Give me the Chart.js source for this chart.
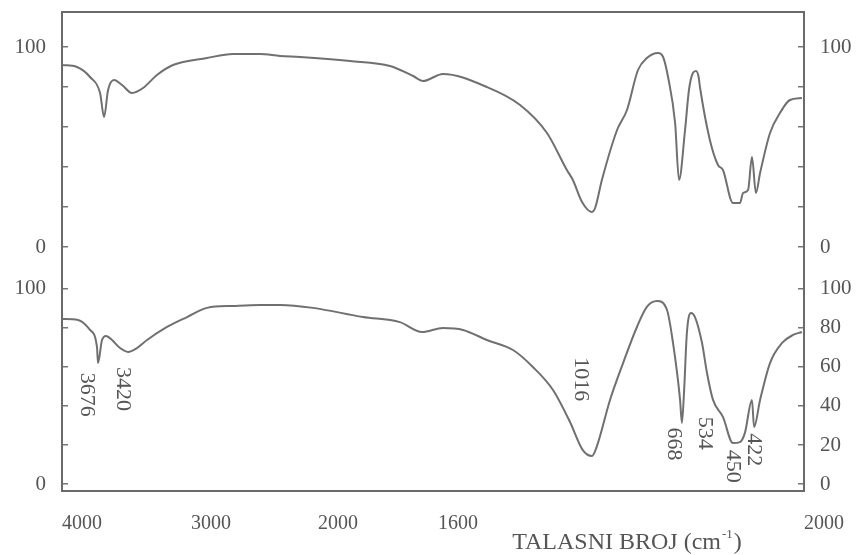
<!DOCTYPE html>
<html>
<head>
<meta charset="utf-8">
<script src="https://cdn.jsdelivr.net/npm/chart.js@4"></script>
<style>
  html, body { margin: 0; padding: 0; background: #fff; }
</style>
</head>
<body>
<canvas id="irChart" width="858" height="555"></canvas>
<script>
// --- podaci (ocitano sa slike) ---
const topWavenumbers = [4000, 3884, 3783, 3705, 3674, 3643, 3597, 3535, 3457, 3372, 3264, 3140, 2874, 2669, 2457, 2299, 2142, 1893, 1760, 1683, 1650, 1581, 1413, 1286, 1183, 1107, 1084, 1049, 1011, 999, 973, 915, 877, 835, 801, 758, 739, 720, 693, 678, 655, 640, 625, 613, 603, 598, 560, 529, 510, 472, 445, 433, 414, 399, 384, 368, 330, 292, 254, 208];
const topTransmittance = [91, 90, 85, 77, 65, 78.5, 83.5, 81, 77, 79.5, 86, 91, 94.5, 96.5, 96.5, 95.5, 95, 93, 90.5, 85.5, 83, 86.5, 80, 71, 57, 38.5, 33.5, 22.5, 17.5, 19.5, 33.5, 58.5, 68.5, 88.5, 94.5, 97, 95, 85, 62, 33.5, 58.5, 78.5, 87, 88, 85, 80, 53.5, 41, 38.5, 22, 22, 27, 28.5, 45, 27, 37, 57, 67, 73.5, 74.5];

const bottomWavenumbers = [4000, 3876, 3783, 3729, 3721, 3690, 3659, 3612, 3550, 3488, 3419, 3341, 3186, 3031, 2874, 2669, 2457, 2299, 2039, 1850, 1727, 1653, 1581, 1504, 1413, 1313, 1237, 1160, 1095, 1046, 1011, 993, 942, 892, 839, 801, 762, 724, 701, 674, 667, 659, 648, 632, 617, 590, 571, 548, 510, 472, 445, 426, 399, 391, 368, 330, 284, 242, 208];
const bottomTransmittance = [84.6, 84.1, 79, 70.3, 62, 73.8, 75.9, 73.8, 69.7, 67.7, 69.7, 73.8, 80.5, 85.6, 90.3, 91.3, 91.8, 91.8, 90.3, 85.6, 83, 77.9, 80, 79, 73.8, 68.7, 60, 48.2, 31.8, 17.4, 14.4, 19, 43.1, 62, 80.5, 90.8, 93.8, 89.2, 72.3, 43.1, 31.3, 46.7, 77.4, 87.7, 85.6, 72.3, 56.9, 43.1, 34.4, 21, 21.5, 26.2, 43.1, 29.2, 43.1, 62, 72.3, 76.4, 77.9];

// oznake traka (tekst, polozaj teksta u cm-1 i %T donjeg spektra)
const peakLabels = ['3676', '3420', '1016', '668', '534', '450', '422'];
const peakLabelWn = [3721, 3442, 1011, 655, 536, 429, 349];
const peakLabelT = [57, 60, 65, 29, 34.5, 17.5, 26];

// x osa: vrijednosti podioka i tekst kako je odstampan
const xTickValues = [4000, 3000, 2000, 1600, 200];
const xTickLabels = ['4000', '3000', '2000', '1600', '2000'];
// prelomi skale (instrument mijenja razmjer)
const xBreakWn = [4000, 3000, 2000, 1600, 200];
const xBreakFrac = [0, 0.1739, 0.345, 0.5067, 1];

const yTickValues = [0, 20, 40, 60, 80, 100];

const TEXT = '#555';
const LINE = '#707070';
const SERIF = "'Liberation Serif', 'DejaVu Serif', serif";

// skala sa prelomima za talasni broj
class IrScale extends Chart.LinearScale {
  static id = 'ir';
  static defaults = Chart.LinearScale.defaults;
  getPixelForValue(value) {
    if (value === null || isNaN(value)) return NaN;
    for (let i = 0; i < xBreakWn.length - 1; i++) {
      const a = xBreakWn[i], b = xBreakWn[i + 1];
      if (value <= a && value >= b || i === xBreakWn.length - 2) {
        const f = xBreakFrac[i] + (a - value) / (a - b) * (xBreakFrac[i + 1] - xBreakFrac[i]);
        return this.getPixelForDecimal(f);
      }
    }
    return this.getPixelForDecimal(0);
  }
  getValueForPixel(pixel) {
    const f = this.getDecimalForPixel(pixel);
    for (let i = 0; i < xBreakFrac.length - 1; i++) {
      if (f <= xBreakFrac[i + 1] || i === xBreakFrac.length - 2) {
        const t = (f - xBreakFrac[i]) / (xBreakFrac[i + 1] - xBreakFrac[i]);
        return xBreakWn[i] - t * (xBreakWn[i] - xBreakWn[i + 1]);
      }
    }
  }
}
Chart.register(IrScale);

function yAxis(position, min, max, showAll) {
  return {
    type: 'linear',
    position: position,
    stack: position,
    stackWeight: 1,
    min: min,
    max: max,
    afterBuildTicks: s => { s.ticks = yTickValues.map(v => ({ value: v })); },
    afterFit: s => {
      s.width = position === 'left' ? 62 : 54;
      s.paddingTop = 0;
      s.paddingBottom = 0;
    },
    border: { display: false },
    grid: { drawOnChartArea: false, drawTicks: true, tickLength: -6, color: '#777', lineWidth: 1.5 },
    ticks: {
      autoSkip: false,
      padding: 22,
      color: TEXT,
      font: { family: SERIF, size: 21 },
      callback: v => (showAll || v === 0 || v === 100) ? String(v) : ''
    }
  };
}

// okvir grafika
const framePlugin = {
  id: 'frame',
  afterDraw(chart) {
    const { ctx, chartArea: a } = chart;
    ctx.save();
    ctx.strokeStyle = '#6a6a6a';
    ctx.lineWidth = 2;
    ctx.strokeRect(a.left, a.top, a.right - a.left, a.bottom - a.top);
    ctx.restore();
  }
};

// oznake traka i naslov x ose
const labelsPlugin = {
  id: 'irLabels',
  afterDatasetsDraw(chart) {
    const ctx = chart.ctx;
    const xs = chart.scales.x, ys = chart.scales.yLeftBot;
    ctx.save();
    ctx.fillStyle = TEXT;
    ctx.font = '22px ' + SERIF;
    ctx.textAlign = 'left';
    ctx.textBaseline = 'top';
    peakLabels.forEach((txt, i) => {
      ctx.save();
      ctx.translate(xs.getPixelForValue(peakLabelWn[i]), ys.getPixelForValue(peakLabelT[i]));
      ctx.rotate(Math.PI / 2);
      ctx.fillText(txt, 0, 0);
      ctx.restore();
    });

    // TALASNI BROJ (cm-1)
    const main = 'TALASNI BROJ (cm', sup = '-1', close = ')';
    ctx.textBaseline = 'alphabetic';
    ctx.font = '24px ' + SERIF;
    const wMain = ctx.measureText(main).width;
    const wClose = ctx.measureText(close).width;
    ctx.font = '13px ' + SERIF;
    const wSup = ctx.measureText(sup).width;
    let x = 627 - (wMain + wSup + wClose + 2) / 2;
    const base = 549;
    ctx.font = '24px ' + SERIF;
    ctx.fillText(main, x, base);
    x += wMain + 1;
    ctx.font = '13px ' + SERIF;
    ctx.fillText(sup, x, base - 11);
    x += wSup + 1;
    ctx.font = '24px ' + SERIF;
    ctx.fillText(close, x, base);
    ctx.restore();
  }
};

new Chart(document.getElementById('irChart'), {
  type: 'line',
  data: {
    datasets: [
      {
        data: topWavenumbers.map((w, i) => ({ x: w, y: topTransmittance[i] })),
        yAxisID: 'yLeftTop',
        borderColor: LINE, borderWidth: 2, pointRadius: 0,
        cubicInterpolationMode: 'monotone', fill: false
      },
      {
        data: bottomWavenumbers.map((w, i) => ({ x: w, y: bottomTransmittance[i] })),
        yAxisID: 'yLeftBot',
        borderColor: LINE, borderWidth: 2, pointRadius: 0,
        cubicInterpolationMode: 'monotone', fill: false
      }
    ]
  },
  options: {
    responsive: false,
    animation: false,
    layout: { padding: { top: 12, left: 0, right: 0, bottom: 0 } },
    plugins: { legend: { display: false }, tooltip: { enabled: false } },
    events: [],
    scales: {
      x: {
        type: 'ir',
        min: 200,
        max: 4000,
        afterBuildTicks: s => { s.ticks = xTickValues.map(v => ({ value: v })); },
        afterFit: s => { s.height = 64; s.paddingLeft = 0; s.paddingRight = 0; },
        border: { display: false },
        grid: { display: false, drawTicks: false },
        ticks: {
          autoSkip: false, maxRotation: 0, labelOffset: 20, padding: 21,
          color: TEXT, font: { family: SERIF, size: 20 },
          callback: (v, i) => xTickLabels[i]
        }
      },
      yLeftBot: yAxis('left', -3.59, 119.2, false),
      yLeftTop: yAxis('left', -2.25, 117.5, false),
      yRightTop: yAxis('right', -2.25, 117.5, false),
      yRightBot: yAxis('right', -3.59, 119.2, true)
    }
  },
  plugins: [framePlugin, labelsPlugin]
});
</script>
</body>
</html>
